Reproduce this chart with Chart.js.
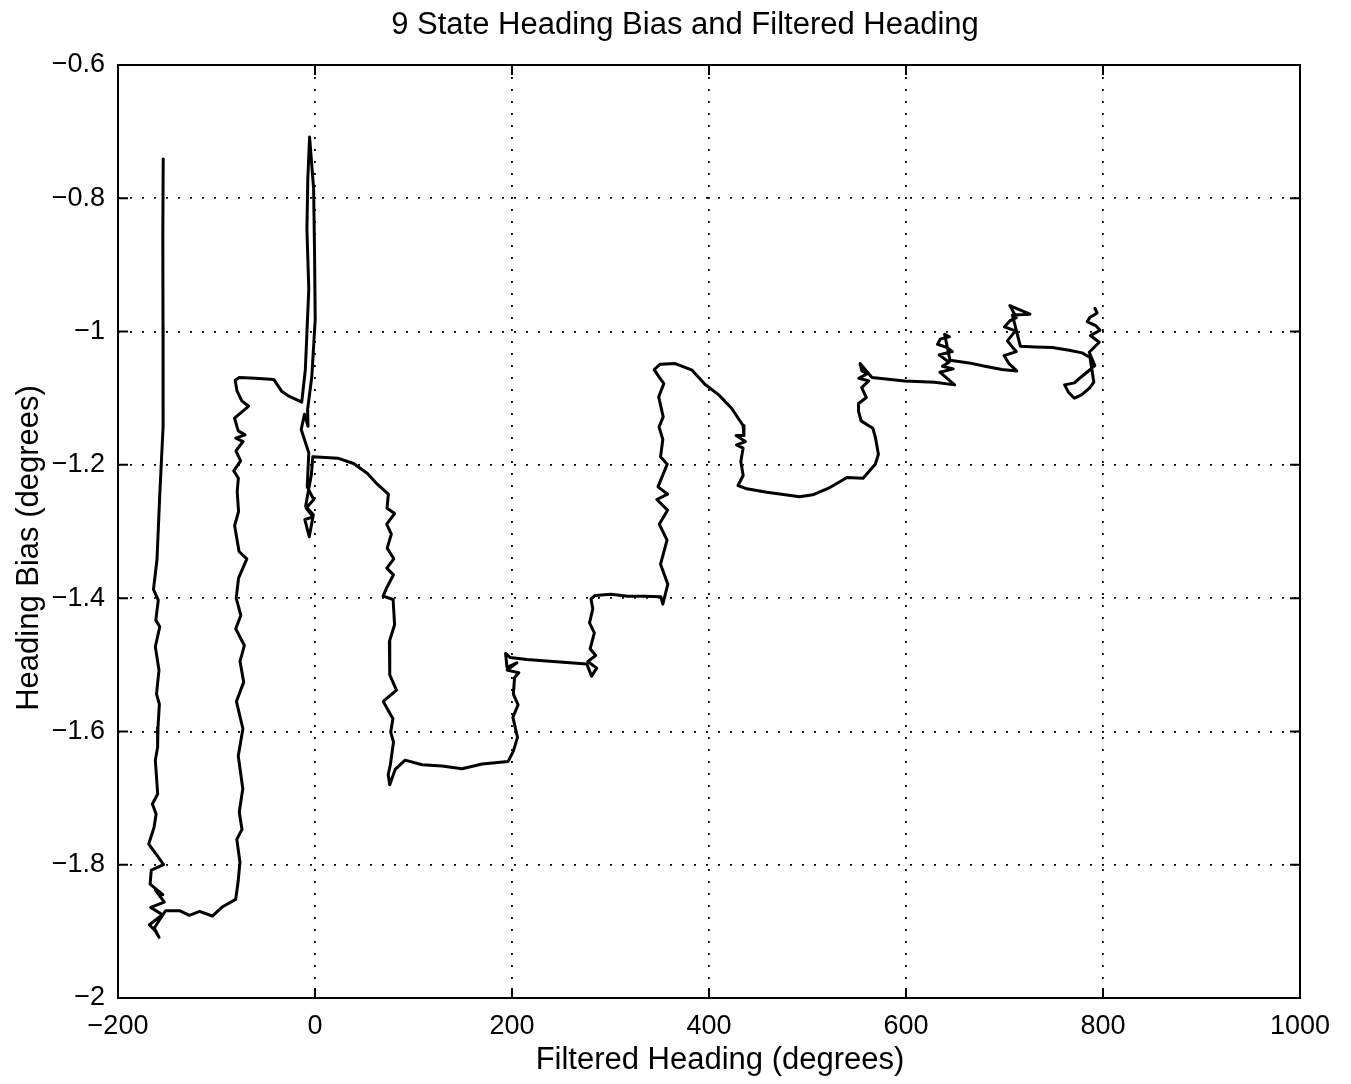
<!DOCTYPE html>
<html>
<head>
<meta charset="utf-8">
<script src="https://cdn.jsdelivr.net/npm/chart.js@4.4.1/dist/chart.umd.min.js"></script>
<style>
  html, body { margin: 0; padding: 0; background: #fff; }
  #wrap { width: 1351px; height: 1084px; }
</style>
</head>
<body>
<div id="wrap"><canvas id="c" width="1351" height="1084"></canvas></div>
<script>
// Filtered heading (deg) and estimated heading bias (deg), in time order.
// Each row of one array pairs with the same row of the other.
const filteredHeading = [
  -154.1, -154.5, -154.3, -154.2, -157.7, -160.4, -164.0, -159.1, -161.6, -157.6,
  -162.1, -158.4, -160.9, -158.0, -159.4, -159.8, -162.1, -159.7, -165.1, -161.3,
  -163.4, -168.8, -160.9, -153.8, -166.2, -167.4, -154.5, -162.0, -153.0, -166.8, -154.9, -168.2,
  -162.3, -158.3, -163.2, -151.7,
  -137.5, -127.5, -117.2, -104.2, -93.8, -80.5,
  -78.1, -76.2, -79.4, -74.1, -76.9, -73.3, -76.1, -77.9, -73.2, -79.8,
  -72.4, -76.1, -71.7, -80.5, -75.3, -80.0, -77.6, -69.2, -77.1, -81.6,
  -77.6, -79.0, -77.8, -82.5, -75.5, -80.3, -73.0, -80.5, -71.0, -77.9, -81.7, -67.3,
  -74.3, -79.2, -81.0, -76.9, -60.6, -41.7, -33.6, -26.5, -20.5, -13.5,
  -9.8, -6.3, -8.2, -7.3, -5.5, -1.4, -0.5, 0.2, -3.2, -7.5,
  -7.1, -10.7, -14.0, -6.3, -7.9, -1.3, -9.0, -2.0, -10.3, -5.8, -1.7, -9.5, -7.4, -3.7, -2.2,
  23.0, 39.1, 53.3, 63.2, 74.5, 73.1, 80.9, 72.8,
  77.5, 73.3, 80.0, 72.9, 79.7, 72.6, 69.2, 79.3, 80.8, 75.5,
  75.9, 82.7, 69.3, 79.1, 76.9, 79.7, 76.5, 74.3, 75.9, 81.4,
  91.5, 108.7, 129.0, 149.3, 169.6, 196.1, 201.3, 205.6, 200.9, 206.2,
  201.4, 202.6, 207.0, 195.0, 205.0, 194.9, 193.5, 198.0,
  215.1, 248.6, 276.0, 280.8, 286.0, 277.0, 285.0, 279.3, 283.6, 278.7, 282.0, 280.2, 284.3,
  300.6, 317.7, 335.0, 351.2,
  353.1, 358.2, 350.8, 357.4, 349.5, 357.9, 347.0, 358.1, 348.2, 357.6,
  350.8, 353.1, 349.3, 353.5, 348.9, 354.2, 349.2, 344.3, 350.5, 365.7,
  382.9, 395.8, 409.9, 422.9, 434.6, 435.5, 427.4, 437.0, 428.0, 434.6, 432.3, 434.7,
  429.4, 438.4, 458.7, 492.1, 505.3, 522.7, 540.1, 556.4, 568.8, 572.0,
  569.1, 566.3, 554.4, 551.7, 551.8, 559.8, 555.0, 562.2, 552.0, 561.0, 555.2, 553.4,
  565.4, 598.8, 629.2, 649.4,
  634.4, 648.0, 637.0, 643.7, 633.7, 647.0, 642.0, 632.0, 635.0, 644.0, 639.2,
  644.7, 664.0, 680.1, 697.4, 712.5,
  704.5, 699.5, 712.0, 707.9, 702.9, 711.1, 700.0, 705.3, 712.0, 708.4, 705.4, 725.8, 708.0,
  716.1, 731.2, 748.5, 765.7, 778.8, 786.8,
  790.7, 786.3, 778.1, 770.9, 765.0, 761.0, 771.1, 776.3, 788.6, 791.7,
  786.0, 796.2, 787.2, 797.0, 792.5, 784.0, 786.6, 794.0, 791.8
];

const headingBias = [
  -0.741, -0.857, -0.993, -1.142, -1.248, -1.342, -1.387, -1.403, -1.433, -1.443,
  -1.473, -1.508, -1.544, -1.559, -1.594, -1.624, -1.643, -1.694, -1.709, -1.724,
  -1.744, -1.769, -1.785, -1.800, -1.808, -1.829, -1.845, -1.838, -1.856, -1.864, -1.875, -1.890,
  -1.899, -1.909, -1.895, -1.869,
  -1.869, -1.876, -1.870, -1.877, -1.863, -1.852,
  -1.826, -1.796, -1.762, -1.747, -1.721, -1.686, -1.656, -1.637, -1.596, -1.555,
  -1.526, -1.495, -1.471, -1.446, -1.426, -1.400, -1.370, -1.341, -1.330, -1.291,
  -1.270, -1.240, -1.220, -1.209, -1.194, -1.179, -1.165, -1.160, -1.155, -1.149, -1.130, -1.112,
  -1.104, -1.089, -1.073, -1.069, -1.070, -1.072, -1.090, -1.097, -1.101, -1.106,
  -1.057, -0.936, -0.847, -0.771, -0.708, -0.786, -0.876, -0.982, -1.067, -1.117,
  -1.142, -1.124, -1.147, -1.182, -1.233, -1.252, -1.265, -1.278, -1.282, -1.308, -1.275, -1.262, -1.245, -1.215, -1.188,
  -1.190, -1.198, -1.213, -1.229, -1.244, -1.265, -1.273, -1.289,
  -1.304, -1.325, -1.341, -1.355, -1.365, -1.385, -1.397, -1.402, -1.440, -1.465,
  -1.515, -1.538, -1.555, -1.581, -1.601, -1.616, -1.650, -1.665, -1.680, -1.657,
  -1.643, -1.650, -1.652, -1.656, -1.649, -1.645, -1.630, -1.609, -1.579, -1.560,
  -1.544, -1.519, -1.512, -1.508, -1.497, -1.504, -1.483, -1.489,
  -1.492, -1.496, -1.499, -1.517, -1.505, -1.495, -1.486, -1.476, -1.452, -1.437, -1.416, -1.401, -1.396,
  -1.394, -1.397, -1.397, -1.398,
  -1.409, -1.379, -1.349, -1.313, -1.289, -1.268, -1.252, -1.244, -1.233, -1.199,
  -1.188, -1.162, -1.143, -1.128, -1.098, -1.078, -1.068, -1.057, -1.049, -1.048,
  -1.058, -1.079, -1.095, -1.115, -1.141, -1.156, -1.156, -1.165, -1.170, -1.175, -1.195, -1.216,
  -1.231, -1.236, -1.241, -1.248, -1.245, -1.234, -1.219, -1.220, -1.199, -1.184,
  -1.160, -1.145, -1.134, -1.119, -1.108, -1.099, -1.084, -1.074, -1.070, -1.063, -1.059, -1.048,
  -1.069, -1.074, -1.076, -1.080,
  -1.061, -1.056, -1.052, -1.046, -1.035, -1.030, -1.024, -1.019, -1.011, -1.008, -1.004,
  -1.043, -1.047, -1.052, -1.057, -1.059,
  -1.048, -1.036, -1.030, -1.023, -1.014, -0.999, -0.993, -0.984, -0.979, -0.969, -0.961, -0.974, -0.975,
  -1.022, -1.023, -1.024, -1.028, -1.032, -1.039,
  -1.076, -1.085, -1.095, -1.100, -1.091, -1.080, -1.077, -1.070, -1.055, -1.051,
  -1.031, -1.016, -1.006, -0.998, -0.991, -0.985, -0.979, -0.972, -0.965
];

const xTickValues = [-200, 0, 200, 400, 600, 800, 1000];
const xTickLabels = ['\u2212200', '0', '200', '400', '600', '800', '1000'];
const yTickValues = [-2, -1.8, -1.6, -1.4, -1.2, -1, -0.8, -0.6];
const yTickLabels = ['\u22122', '\u22121.8', '\u22121.6', '\u22121.4', '\u22121.2', '\u22121', '\u22120.8', '\u22120.6'];

const chartTitle = '9 State Heading Bias and Filtered Heading';
const xTitle = 'Filtered Heading (degrees)';
const yTitle = 'Heading Bias (degrees)';

const FONT = '"Liberation Sans", Arial, Helvetica, sans-serif';

// Solid box, inward tick marks on all four sides, and the three titles.
const framePlugin = {
  id: 'frame',
  afterDatasetsDraw(chart) {
    const { ctx, chartArea: a, scales: { x, y } } = chart;
    ctx.save();
    ctx.strokeStyle = '#000';
    ctx.lineWidth = 2;
    ctx.strokeRect(a.left, a.top, a.right - a.left, a.bottom - a.top);
    const t = 10;
    ctx.beginPath();
    xTickValues.forEach(v => {
      const px = x.getPixelForValue(v);
      ctx.moveTo(px, a.bottom); ctx.lineTo(px, a.bottom - t);
      ctx.moveTo(px, a.top); ctx.lineTo(px, a.top + t);
    });
    yTickValues.forEach(v => {
      const py = y.getPixelForValue(v);
      ctx.moveTo(a.left, py); ctx.lineTo(a.left + t, py);
      ctx.moveTo(a.right, py); ctx.lineTo(a.right - t, py);
    });
    ctx.stroke();

    ctx.fillStyle = '#000';
    ctx.font = '31px ' + FONT;
    ctx.textAlign = 'center';
    ctx.textBaseline = 'middle';
    ctx.fillText(chartTitle, 685, 25);
    ctx.fillText(xTitle, 720, 1060);
    ctx.translate(29, 548);
    ctx.rotate(-Math.PI / 2);
    ctx.fillText(yTitle, 0, 0);
    ctx.restore();
  }
};

const n = Math.min(filteredHeading.length, headingBias.length);
const track = [];
for (let i = 0; i < n; i++) track.push({ x: filteredHeading[i], y: headingBias[i] });

new Chart(document.getElementById('c'), {
  type: 'scatter',
  data: {
    datasets: [{
      data: track,
      showLine: true,
      borderColor: '#000',
      backgroundColor: '#000',
      borderWidth: 3,
      borderJoinStyle: 'round',
      borderCapStyle: 'round',
      pointRadius: 0,
      pointHoverRadius: 0,
      tension: 0,
      fill: false
    }]
  },
  options: {
    responsive: false,
    animation: false,
    devicePixelRatio: 1,
    events: [],
    layout: { padding: { top: 65, right: 51, bottom: 0, left: 0 } },
    plugins: {
      legend: { display: false },
      tooltip: { enabled: false },
      title: { display: false }
    },
    scales: {
      x: {
        type: 'linear',
        min: -200,
        max: 1000,
        afterBuildTicks: s => { s.ticks = xTickValues.map(v => ({ value: v })); },
        afterFit: s => { s.height = 86; },
        ticks: {
          callback: (v, i) => xTickLabels[i],
          font: { family: FONT, size: 27 },
          color: '#000',
          padding: 12,
          maxRotation: 0,
          autoSkip: false
        },
        grid: { color: '#000', lineWidth: 1.8, drawTicks: false },
        border: { display: false, dash: [2, 10] }
      },
      y: {
        type: 'linear',
        min: -2,
        max: -0.6,
        afterBuildTicks: s => { s.ticks = yTickValues.map(v => ({ value: v })); },
        afterFit: s => { s.width = 118; },
        ticks: {
          callback: (v, i) => yTickLabels[i],
          font: { family: FONT, size: 27 },
          color: '#000',
          padding: 13,
          autoSkip: false
        },
        grid: { color: '#000', lineWidth: 1.8, drawTicks: false },
        border: { display: false, dash: [2, 10] }
      }
    }
  },
  plugins: [framePlugin]
});
</script>
</body>
</html>
